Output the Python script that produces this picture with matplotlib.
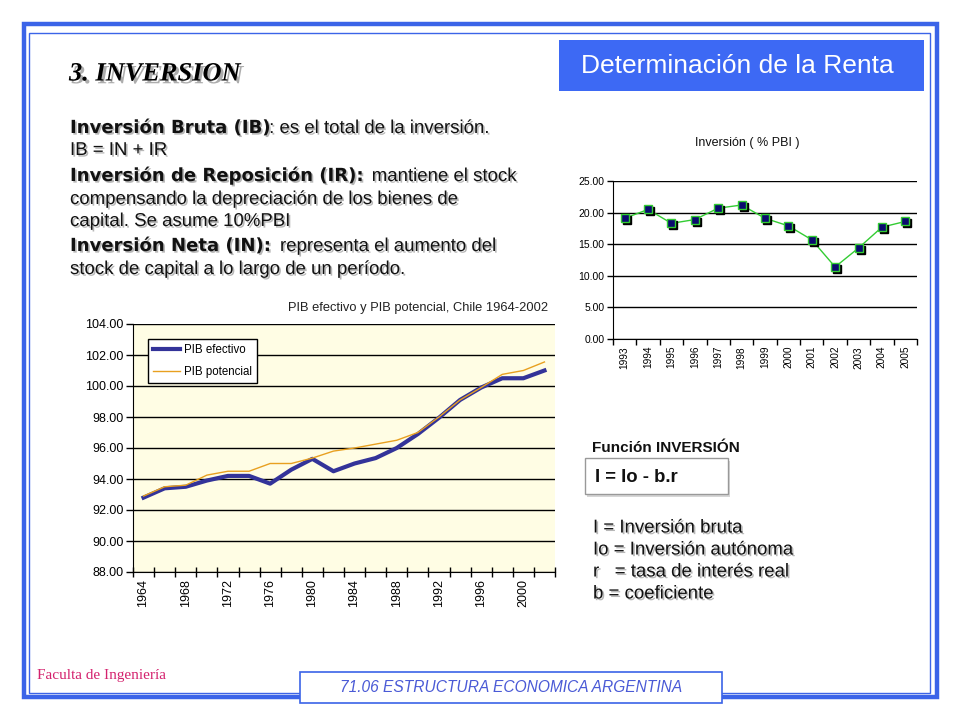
import matplotlib
matplotlib.use("Agg")
import matplotlib.pyplot as plt
import matplotlib.patheffects as pe
import matplotlib.transforms as mtransforms
from matplotlib.patches import Rectangle

# ---------------- data ----------------
pib_years = [1964, 1966, 1968, 1970, 1972, 1974, 1976, 1978, 1980, 1982,
             1984, 1986, 1988, 1990, 1992, 1994, 1996, 1998, 2000, 2002]
pib_efectivo = [92.8, 93.4, 93.5, 93.9, 94.2, 94.2, 93.7, 94.6, 95.3, 94.5,
                95.0, 95.35, 96.0, 96.9, 97.95, 99.1, 99.9, 100.5, 100.5, 101.0]
pib_potencial = [92.9, 93.5, 93.6, 94.25, 94.5, 94.5, 95.0, 95.0, 95.35, 95.8,
                 96.0, 96.25, 96.5, 97.0, 98.0, 99.1, 99.9, 100.75, 101.0, 101.55]
pib_yticks = [88, 90, 92, 94, 96, 98, 100, 102, 104]

inv_years = ["1993", "1994", "1995", "1996", "1997", "1998", "1999",
             "2000", "2001", "2002", "2003", "2004", "2005"]
inv_values = [19.1, 20.5, 18.3, 18.9, 20.7, 21.2, 19.1, 17.9, 15.7, 11.4,
              14.4, 17.7, 18.6]
inv_yticks = [0, 5, 10, 15, 20, 25]

W, H = 960, 720
fig = plt.figure(figsize=(9.6, 7.2), dpi=100)
fig.patch.set_facecolor("white")

def rect(x0, y0, x1, y1):
    return [x0 / W, 1 - y1 / H, (x1 - x0) / W, (y1 - y0) / H]

# background overlay axes in pixel coordinates
bg = fig.add_axes([0, 0, 1, 1], zorder=0)
bg.set_xlim(0, W)
bg.set_ylim(H, 0)
bg.axis("off")

BLUE = "#3b64e8"
# outer frame (thick) and inner thin frame
bg.add_patch(Rectangle((24, 24), 912.5, 672.5, fill=False, ec=BLUE, lw=3.2))
bg.add_patch(Rectangle((29, 32.5), 901, 660, fill=False, ec=BLUE, lw=1.0))

# title box
bg.add_patch(Rectangle((559, 40), 365, 51, fc="#3d69f4", ec="none", zorder=3))
bg.text(737.5, 66, "Determinación de la Renta", color="white", fontsize=19,
        family="Liberation Sans", ha="center", va="center", zorder=4)

shadow = [pe.withSimplePatchShadow(offset=(1.2, -1.2), shadow_rgbFace="#888888", alpha=0.6)]

# section title
bg.text(69, 74, "3. INVERSION", fontsize=19, family="Liberation Serif",
        weight="bold", style="italic", ha="left", va="center",
        path_effects=[pe.withSimplePatchShadow(offset=(2, -2), shadow_rgbFace="#777777", alpha=0.6)])

fig.canvas.draw()
renderer = fig.canvas.get_renderer()

def mixed(x, y, parts):
    cur = x
    for txt, bold in parts:
        if bold:
            t = bg.text(cur, y, txt, fontsize=13, family="DejaVu Sans",
                        weight="bold", ha="left", va="baseline", color="#111111",
                        path_effects=shadow)
        else:
            t = bg.text(cur, y, txt, fontsize=13.4, family="Liberation Sans",
                        ha="left", va="baseline", color="#111111",
                        path_effects=shadow)
        bb = t.get_window_extent(renderer)
        cur = bb.x1

lines = [
    (133, [("Inversión Bruta (IB)", True), (": es el total de la inversión.", False)]),
    (155, [("IB = IN + IR", False)]),
    (181, [("Inversión de Reposición (IR):", True), ("  mantiene el stock", False)]),
    (204, [("compensando la depreciación de los bienes de", False)]),
    (226, [("capital. Se asume 10%PBI", False)]),
    (251, [("Inversión Neta (IN):", True), ("  representa el aumento del", False)]),
    (274, [("stock de capital a lo largo de un período.", False)]),
]
for y, parts in lines:
    mixed(70, y, parts)

# Función inversión
bg.text(592, 448, "Función INVERSIÓN", fontsize=11, family="Liberation Sans",
        weight="bold", ha="left", va="center", color="#111111")
bg.add_patch(Rectangle((587, 461), 143, 36, fc="#bbbbbb", ec="none", alpha=0.6, zorder=1))
bg.add_patch(Rectangle((585, 458), 143, 36, fc="white", ec="#999999", lw=1, zorder=2))
bg.text(595, 477, "I = Io - b.r", fontsize=13.3, family="Liberation Sans",
        weight="bold", ha="left", va="center", color="#111111", zorder=3)
for yy, s in zip([528, 550, 572, 594],
                 ["I = Inversión bruta", "Io = Inversión autónoma",
                  "r   = tasa de interés real", "b = coeficiente"]):
    bg.text(593, yy, s, fontsize=13.4, family="Liberation Sans", ha="left",
            va="center", color="#111111", path_effects=shadow)

# footer
bg.text(37, 676, "Faculta de Ingeniería", fontsize=11, family="Liberation Serif",
        color="#d4226e", ha="left", va="center")
bg.add_patch(Rectangle((300, 672), 422, 31, fc="white", ec=BLUE, lw=1.2, zorder=3))
bg.text(511, 688, "71.06 ESTRUCTURA ECONOMICA ARGENTINA", fontsize=11.2,
        family="Liberation Sans", style="italic", color="#4a5ad6",
        ha="center", va="center", zorder=4)

# ---------------- PIB chart ----------------
ax1 = fig.add_axes(rect(133, 324, 555, 572), zorder=2)
ax1.set_facecolor("#fffde4")
n = len(pib_years)
xs = list(range(n))
ax1.plot(xs, pib_efectivo, color="#333399", lw=3, label="PIB efectivo", zorder=3)
ax1.plot(xs, pib_potencial, color="#e8a020", lw=1, label="PIB potencial", zorder=4)
ax1.set_xlim(-0.5, n - 0.5)
ax1.set_ylim(88, 104)
ax1.set_yticks(pib_yticks)
ax1.set_yticklabels([f"{v:.2f}" for v in pib_yticks], fontsize=9,
                    family="Liberation Sans")
ax1.yaxis.grid(True, color="black", lw=1)
ax1.set_axisbelow(True)
ax1.set_xticks([i - 0.5 for i in range(n + 1)])
ax1.set_xticklabels([])
ax1.set_xticks(xs, minor=True)
ax1.set_xticklabels([str(y) if i % 2 == 0 else "" for i, y in enumerate(pib_years)],
                    minor=True, rotation=90, fontsize=9, family="Liberation Sans")
ax1.tick_params(axis="x", which="major", direction="inout", length=7, width=1)
ax1.tick_params(axis="x", which="minor", length=0, pad=5)
ax1.tick_params(axis="y", direction="out", length=5, width=1, pad=2)
for s in ["top", "right"]:
    ax1.spines[s].set_visible(False)
leg = ax1.legend(loc="upper left", bbox_to_anchor=(0.036, 0.94), borderaxespad=0,
                 fancybox=False, edgecolor="black", framealpha=1,
                 prop={"family": "Liberation Sans", "size": 8.3}, handlelength=2.3,
                 handletextpad=0.35, borderpad=0.45, labelspacing=0.85)
leg.get_frame().set_linewidth(1)
bg.text(548, 308, "PIB efectivo y PIB potencial, Chile 1964-2002", fontsize=9.3,
        family="Liberation Sans", color="#222222", ha="right", va="center")

# ---------------- Inversión chart ----------------
ax2 = fig.add_axes(rect(613, 181, 917, 339), zorder=2)
ax2.set_facecolor("white")
m = len(inv_years)
xi = list(range(m))
ax2.plot(xi, inv_values, color="#33cc33", lw=1, zorder=3)
shadow_tr = mtransforms.offset_copy(ax2.transData, fig=fig, x=2, y=-2, units="dots")
ax2.plot(xi, inv_values, ls="none", marker="s", ms=5.5, mfc="black", mec="black",
         mew=1, zorder=3.5, transform=shadow_tr)
ax2.plot(xi, inv_values, ls="none", marker="s", ms=5.5, mfc="#0a0a6e",
         mec="#33cc33", mew=1, zorder=4)
ax2.set_xlim(-0.5, m - 0.5)
ax2.set_ylim(0, 25)
ax2.set_yticks(inv_yticks)
ax2.set_yticklabels([f"{v:.2f}" for v in inv_yticks], fontsize=7.5,
                    family="Liberation Sans")
ax2.yaxis.grid(True, color="black", lw=1)
ax2.set_axisbelow(True)
ax2.set_xticks([i - 0.5 for i in range(m + 1)])
ax2.set_xticklabels([])
ax2.set_xticks(xi, minor=True)
ax2.set_xticklabels(inv_years, minor=True, rotation=90, fontsize=7.3,
                    family="Liberation Sans")
ax2.tick_params(axis="x", which="major", direction="out", length=4, width=1)
ax2.tick_params(axis="x", which="minor", length=0, pad=5)
ax2.tick_params(axis="y", direction="out", length=4, width=1, pad=2)
for s in ["top", "right"]:
    ax2.spines[s].set_visible(False)
bg.text(747, 143, "Inversión ( % PBI )", fontsize=9, family="Liberation Sans",
        color="#111111", ha="center", va="center")

fig.savefig("out.png", dpi=100)
